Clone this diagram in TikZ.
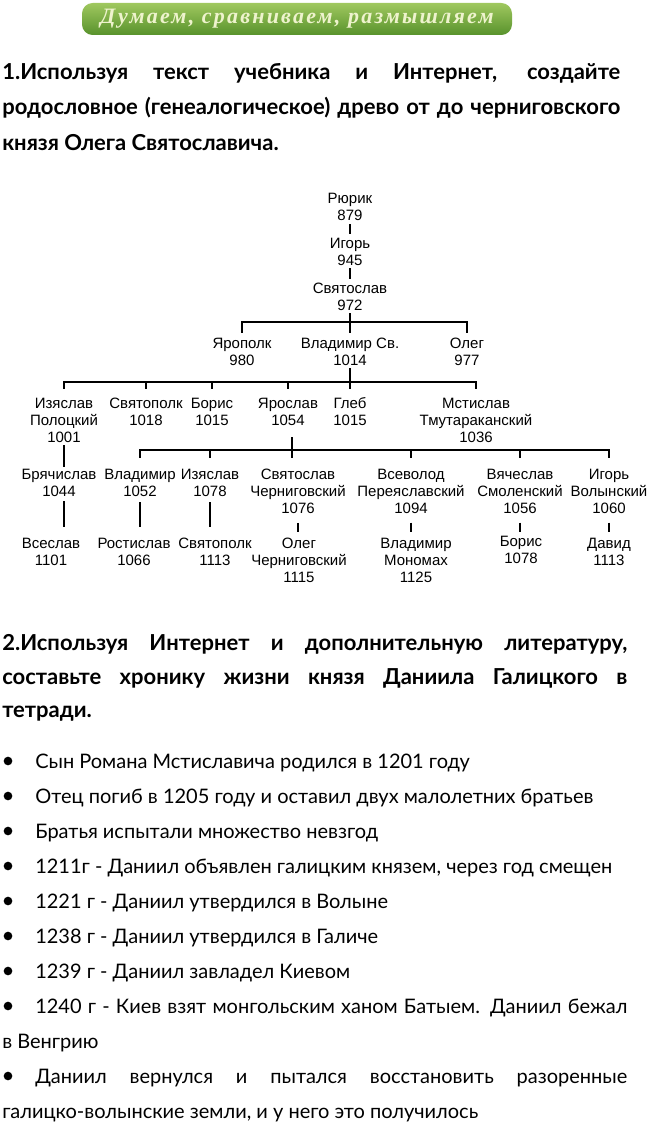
\documentclass[tikz,border=0pt]{standalone}
\usepackage{fontspec}
\setmainfont{Lato}
\newfontfamily\treefont{Liberation Sans}
\newfontfamily\bannerfont[LetterSpace=10]{Liberation Serif}
\usepackage{tikz}
\usetikzlibrary{shadings}
\definecolor{bandtop}{RGB}{160,200,95}
\definecolor{bandbottom}{RGB}{88,146,44}
\definecolor{bandtext}{RGB}{238,243,205}
\newdimen\pxu \pxu=0.75pt

\begin{document}
\begin{tikzpicture}[x=0.75pt, y=-0.75pt,
  band/.style={rectangle, rounded corners=8pt, top color=bandtop, bottom color=bandbottom,
               minimum width=430\pxu, minimum height=32\pxu, inner sep=0pt,
               text=bandtext, font=\bannerfont\bfseries\itshape\fontsize{16.5}{20}\selectfont},
  task/.style={anchor=base west, inner sep=0pt, font=\bfseries\fontsize{16.5}{20}\selectfont},
  item/.style={anchor=base west, inner sep=0pt, font=\fontsize{15}{18}\selectfont},
  dot/.style={circle, fill=black, inner sep=0pt, minimum size=6.5pt},
  person/.style={anchor=north, inner sep=0pt, align=center,
                 font=\treefont\fontsize{11.25}{12.75}\selectfont},
  tie/.style 2 args={line width=0.8pt, shorten <=#1, shorten >=#2},
]
  \useasboundingbox (0,0) rectangle (653,1123);

  % Banner and task 1
  \node[band] (band) at (297,19) {Думаем, сравниваем, размышляем};
  \node[task] (t1a) at (2,80) {\makebox[618\pxu][s]{1.Используя текст учебника и Интернет, создайте}};
  \node[task] (t1b) at (2,115) {\makebox[618\pxu][s]{родословное (генеалогическое) древо от до черниговского}};
  \node[task] (t1c) at (2,151) {князя Олега Святославича.};

  % Family tree
  \node[person] (rurik) at (350,192.5) {Рюрик\\879};
  \node[person] (igor) at (350,237.5) {Игорь\\945};
  \node[person] (svyat) at (350,282.5) {Святослав\\972};

  \node[person] (yarop) at (242,337.5) {Ярополк\\980};
  \node[person] (vladsv) at (350,337.5) {Владимир Св.\\1014};
  \node[person] (olegd) at (467,337.5) {Олег\\977};

  \node[person] (izpol) at (64,397.5) {Изяслав\\Полоцкий\\1001};
  \node[person] (svpolk) at (146,397.5) {Святополк\\1018};
  \node[person] (boris) at (212,397.5) {Борис\\1015};
  \node[person] (yarosl) at (288,397.5) {Ярослав\\1054};
  \node[person] (gleb) at (350,397.5) {Глеб\\1015};
  \node[person] (mstis) at (476,397.5) {Мстислав\\Тмутараканский\\1036};

  \node[person] (brya) at (59,469) {Брячислав\\1044};
  \node[person] (vlad2) at (140,469) {Владимир\\1052};
  \node[person] (izyas2) at (210,469) {Изяслав\\1078};
  \node[person] (svch) at (298,469) {Святослав\\Черниговский\\1076};
  \node[person] (vsev) at (411,469) {Всеволод\\Переяславский\\1094};
  \node[person] (vyach) at (520,469) {Вячеслав\\Смоленский\\1056};
  \node[person] (igor2) at (609,469) {Игорь\\Волынский\\1060};

  \node[person] (vses) at (51,537.5) {Всеслав\\1101};
  \node[person] (rost) at (134,537.5) {Ростислав\\1066};
  \node[person] (svpolk2) at (215,537.5) {Святополк\\1113};
  \node[person] (olegch) at (299,537.5) {Олег\\Черниговский\\1115};
  \node[person] (vlmon) at (416,537.5) {Владимир\\Мономах\\1125};
  \node[person] (borisb) at (521,535.5) {Борис\\1078};
  \node[person] (david) at (609,537.5) {Давид\\1113};

  \coordinate (fork1) at (350,322);
  \coordinate (fork2) at (350,382);
  \coordinate (fork3) at (292,450);

  \draw[tie={3pt}{2.6pt}] (rurik) -- (igor);
  \draw[tie={2pt}{3pt}] (igor) -- (svyat);
  \draw[tie={2pt}{3.4pt}] (svyat) -- (vladsv);
  \draw[tie={3.4pt}{3.4pt}] (yarop.north) |- (fork1) -| (olegd.north);

  \draw[tie={2pt}{6.4pt}] (vladsv) -- (gleb);
  \draw[tie={6.4pt}{6.4pt}] (izpol.north) |- (fork2) -| (mstis.north);
  \foreach \kid in {svpolk,boris,yarosl}
    \draw[tie={6.4pt}{0pt}] (\kid.north) -- (\kid.north |- fork2);

  \draw[tie={8.7pt}{8.3pt}] (yarosl.south -| fork3) -- (svch.north -| fork3);
  \draw[tie={8.3pt}{8.3pt}] (vlad2.north) |- (fork3) -| (igor2.north);
  \foreach \kid in {izyas2,vsev,vyach}
    \draw[tie={8.3pt}{0pt}] (\kid.north) -- (\kid.north |- fork3);

  \draw[tie={2pt}{1.5pt}] (izpol.south) -- (izpol.south |- brya.north);
  \draw[tie={3pt}{8pt}] (brya.south -| izpol) -- (vses.north -| izpol);
  \draw[tie={4pt}{8pt}] (vlad2.south) -- (vlad2.south |- rost.north);
  \draw[tie={4pt}{8pt}] (izyas2.south) -- (izyas2.south |- svpolk2.north);
  \draw[tie={6.5pt}{4pt}] (svch.south) -- (svch.south |- olegch.north);
  \draw[tie={6.5pt}{4pt}] (vsev.south) -- (vsev.south |- vlmon.north);
  \draw[tie={6.5pt}{2.6pt}] (vyach.south) -- (vyach.south |- borisb.north);
  \draw[tie={6.5pt}{4pt}] (igor2.south) -- (igor2.south |- david.north);

  % Task 2 and chronicle
  \node[task] (t2a) at (2,650) {\makebox[625\pxu][s]{2.Используя Интернет и дополнительную литературу,}};
  \node[task] (t2b) at (2,684) {\makebox[625\pxu][s]{составьте хронику жизни князя Даниила Галицкого в}};
  \node[task] (t2c) at (2,717) {тетради.};

  \foreach \yy [count=\i] in {761,796,831,866,901,936,971,1006,1076}
    \node[dot] (dot\i) at (8,\yy) {};

  \node[item] (e1) at (35,768) {Сын Романа Мстиславича родился в 1201 году};
  \node[item] (e2) at (35,803) {Отец погиб в 1205 году и оставил двух малолетних братьев};
  \node[item] (e3) at (35,838) {Братья испытали множество невзгод};
  \node[item] (e4) at (35,873) {1211г - Даниил объявлен галицким князем, через год смещен};
  \node[item] (e5) at (35,908) {1221 г - Даниил утвердился в Волыне};
  \node[item] (e6) at (35,943) {1238 г - Даниил утвердился в Галиче};
  \node[item] (e7) at (35,978) {1239 г - Даниил завладел Киевом};
  \node[item] (e8) at (35,1013) {\makebox[592\pxu][s]{1240 г - Киев взят монгольским ханом Батыем. Даниил бежал}};
  \node[item] (e8b) at (2,1048) {в Венгрию};
  \node[item] (e9) at (35,1083) {\makebox[592\pxu][s]{Даниил вернулся и пытался восстановить разоренные}};
  \node[item] (e9b) at (2,1118) {галицко-волынские земли, и у него это получилось};
\end{tikzpicture}
\end{document}
